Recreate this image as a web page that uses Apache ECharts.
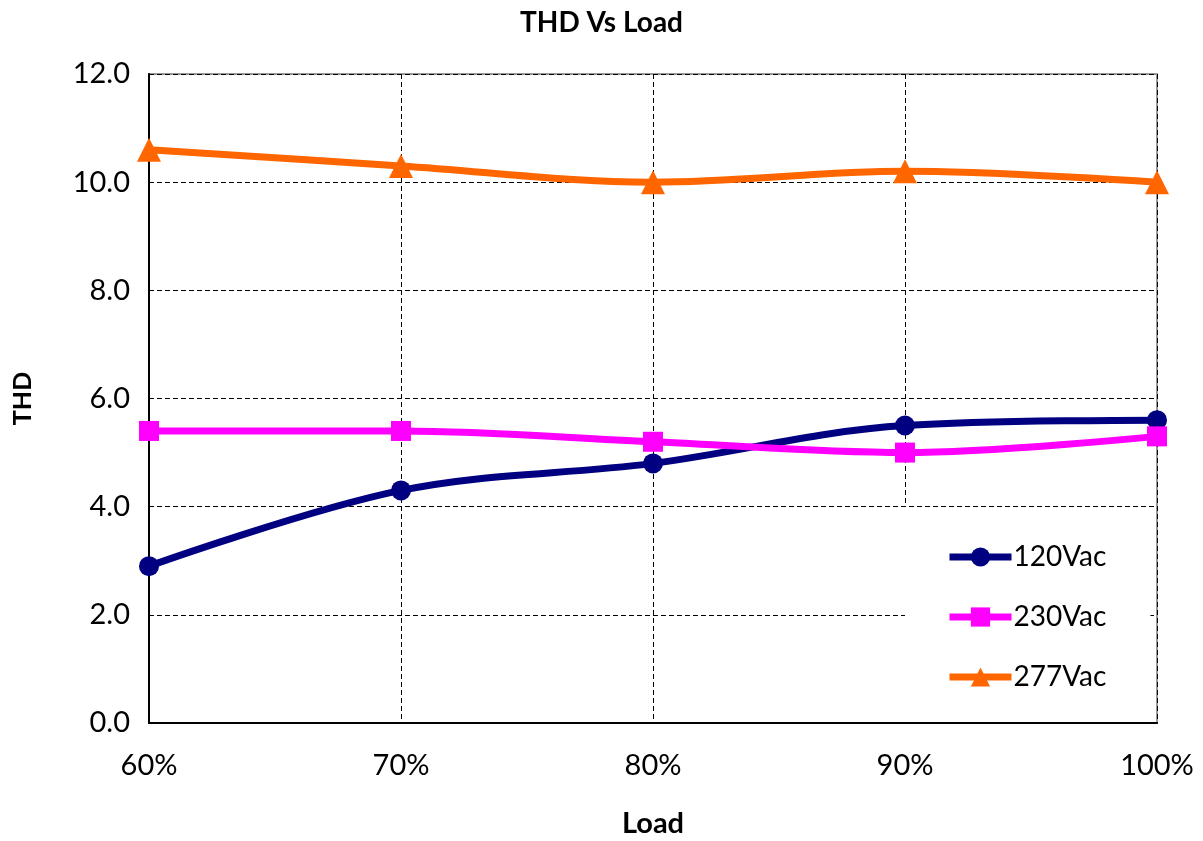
<!DOCTYPE html>
<html>
<head>
<meta charset="utf-8">
<script src="https://cdn.jsdelivr.net/npm/echarts@6/dist/echarts.min.js"></script>
<style>
  html, body { margin: 0; padding: 0; background: #fff; }
  #d_chart { width: 1203px; height: 841px; }
</style>
</head>
<body>
<div id="d_chart"></div>
<script>
// data
var xData = ['60%', '70%', '80%', '90%', '100%']
var v120 = [2.9, 4.3, 4.8, 5.5, 5.6]
var v230 = [5.4, 5.4, 5.2, 5.0, 5.3]
var v277 = [10.6, 10.3, 10.0, 10.2, 10.0]

var font = 'Lato, "Open Sans", sans-serif'

var chart = echarts.init(document.getElementById('d_chart'))

function line (name, data, color, symbol, size) {
  return {
    name: name,
    type: 'line',
    data: data,
    smooth: 0.35,
    symbol: symbol,
    symbolSize: size,
    lineStyle: { width: 7, color: color },
    itemStyle: { color: color },
    z: 3
  }
}

var option = {
  backgroundColor: '#fff',
  animation: false,
  textStyle: { fontFamily: font },
  title: {
    text: 'THD Vs Load',
    left: 'center',
    top: 4,
    textStyle: { fontFamily: font, fontSize: 28, fontWeight: 'bold', color: '#000' }
  },
  grid: {
    left: 149,
    right: 46,
    top: 74,
    bottom: 118,
    outerBoundsMode: 'none',
    containLabel: false,
    show: true,
    borderColor: '#999',
    borderWidth: 2
  },
  legend: {
    orient: 'vertical',
    left: 905,
    top: 507,
    padding: [36, 44, 28, 41],
    backgroundColor: '#fff',
    itemWidth: 62,
    itemHeight: 24,
    itemGap: 32,
    z: 2,
    lineStyle: { width: 7 },
    textStyle: { fontFamily: font, fontSize: 28, color: '#000', padding: [0, 0, 0, -3] },
    data: ['120Vac', '230Vac', '277Vac']
  },
  xAxis: {
    type: 'category',
    data: xData,
    boundaryGap: false,
    name: 'Load',
    nameLocation: 'middle',
    nameGap: 86,
    nameTextStyle: { fontFamily: font, fontSize: 29, fontWeight: 'bold', color: '#000' },
    axisLine: { lineStyle: { color: '#000', width: 2 } },
    axisTick: { show: false },
    axisLabel: { fontFamily: font, fontSize: 29, color: '#000', margin: 28 },
    splitLine: { show: true, lineStyle: { color: '#000', type: [5, 3], width: 1 } }
  },
  yAxis: {
    type: 'value',
    min: 0,
    max: 12,
    interval: 2,
    name: 'THD',
    nameLocation: 'middle',
    nameGap: 114,
    nameTextStyle: { fontFamily: font, fontSize: 25, fontWeight: 'bold', color: '#000' },
    axisLine: { show: true, lineStyle: { color: '#000', width: 2 } },
    axisTick: { show: false },
    axisLabel: {
      fontFamily: font,
      fontSize: 29,
      color: '#000',
      margin: 19,
      formatter: function (v) { return v.toFixed(1) }
    },
    splitLine: { show: true, lineStyle: { color: '#000', type: [5, 3], width: 1 } }
  },
  series: [
    line('120Vac', v120, '#000080', 'circle', 20),
    line('230Vac', v230, '#ff00ff', 'rect', 20),
    line('277Vac', v277, '#ff6600', 'triangle', 24)
  ]
}
chart.setOption(option, true)
</script>
</body>
</html>
